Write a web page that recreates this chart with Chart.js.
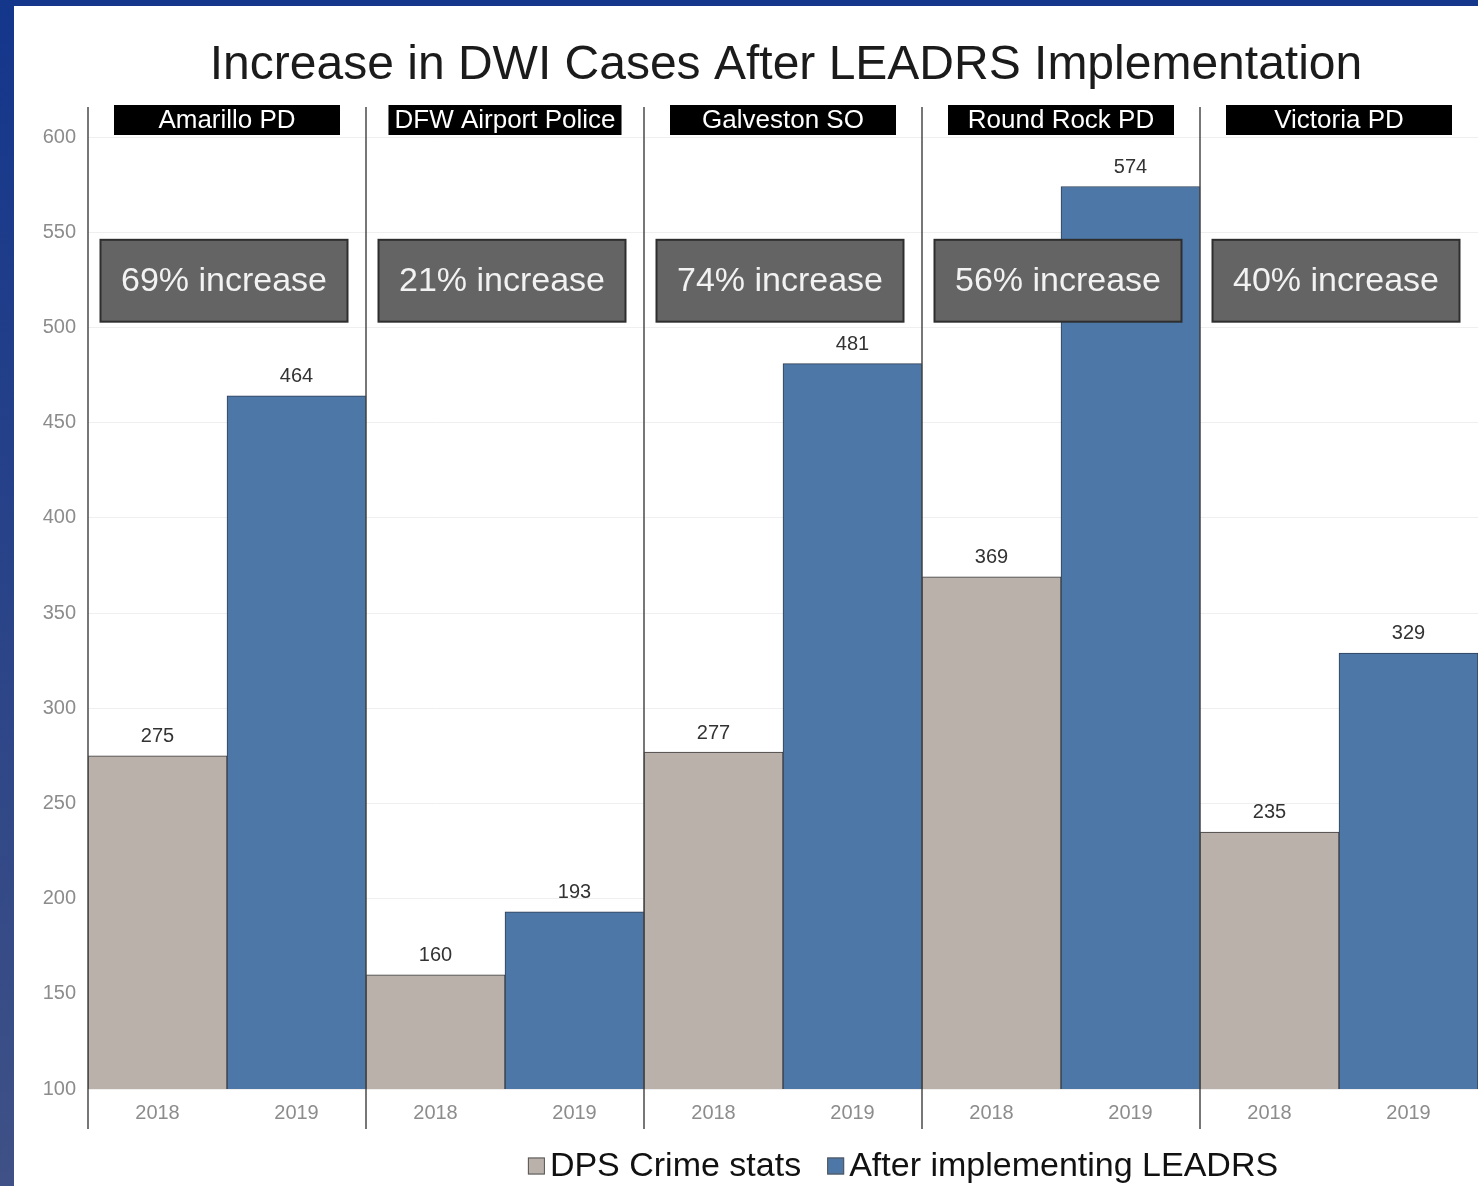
<!DOCTYPE html>
<html>
<head>
<meta charset="utf-8">
<title>Increase in DWI Cases After LEADRS Implementation</title>
<script src="https://cdn.jsdelivr.net/npm/chart.js@4"></script>
<style>
    html, body { margin: 0; padding: 0; background: #fff; }
    #wrap { position: relative; width: 1478px; height: 1186px; overflow: hidden; }
</style>
</head>
<body>
<div id="wrap"><canvas id="graficaDwi"></canvas></div>
<script>
const tituloGrafica = 'Increase in DWI Cases After LEADRS Implementation';
const agencias = ['Amarillo PD', 'DFW Airport Police', 'Galveston SO', 'Round Rock PD', 'Victoria PD'];
const anios = ['2018', '2019'];
const dpsCrimeStats = [275, 160, 277, 369, 235];
const despuesLeadrs = [464, 193, 481, 574, 329];
const nombresSeries = ['DPS Crime stats', 'After implementing LEADRS'];

const FUENTE = '"Liberation Sans", Arial, sans-serif';
const GRIS = '#bab1ab';
const AZUL = '#4c77a6';

// cada agencia ocupa dos categorias: 2018 y 2019
const etiquetas = agencias.flatMap(() => anios);
const serie2018 = agencias.flatMap((a, i) => [dpsCrimeStats[i], null]);
const serie2019 = agencias.flatMap((a, i) => [null, despuesLeadrs[i]]);

const extras = {
    id: 'extras',
    afterDatasetsDraw(chart) {
        const { ctx, chartArea, scales } = chart;
        const x = scales.x, y = scales.y;
        const paso = x.getPixelForValue(1) - x.getPixelForValue(0);

        ctx.save();
        agencias.forEach((nombre, i) => {
            const izq = x.getPixelForValue(2 * i) - paso / 2;
            const centro = izq + paso;

            // caja de porcentaje
            const pct = Math.round((despuesLeadrs[i] / dpsCrimeStats[i] - 1) * 100);
            const yTop = y.getPixelForValue(546), yBot = y.getPixelForValue(503);
            const ancho = 247;
            ctx.fillStyle = '#646464';
            ctx.fillRect(centro - 3 - ancho / 2, yTop, ancho, yBot - yTop);
            ctx.strokeStyle = '#2e2e2e';
            ctx.lineWidth = 2;
            ctx.strokeRect(centro - 3 - ancho / 2, yTop, ancho, yBot - yTop);
            ctx.fillStyle = '#f2f2f2';
            ctx.font = '34px ' + FUENTE;
            ctx.textAlign = 'center';
            ctx.textBaseline = 'middle';
            ctx.fillText(pct + '% increase', centro - 3, (yTop + yBot) / 2 + 1);

            // encabezado negro
            ctx.font = '26px ' + FUENTE;
            const w = Math.max(226, ctx.measureText(nombre).width + 12);
            ctx.fillStyle = '#000';
            ctx.fillRect(centro - w / 2, chartArea.top - 32, w, 30);
            ctx.fillStyle = '#fff';
            ctx.fillText(nombre, centro, chartArea.top - 16);

            // divisores
            ctx.strokeStyle = '#4a4a4a';
            ctx.lineWidth = 1.5;
            ctx.beginPath();
            ctx.moveTo(izq, chartArea.top - 30);
            ctx.lineTo(izq, chartArea.bottom + 40);
            ctx.stroke();
        });

        // valores encima de las barras
        ctx.font = '20px ' + FUENTE;
        ctx.fillStyle = '#333';
        ctx.textAlign = 'center';
        ctx.textBaseline = 'middle';
        chart.data.datasets.forEach((ds, d) => {
            chart.getDatasetMeta(d).data.forEach((bar, j) => {
                if (ds.data[j] == null) return;
                ctx.fillText(ds.data[j], bar.x, bar.y - 19);
            });
        });

        // titulo
        ctx.font = '48px ' + FUENTE;
        ctx.fillStyle = '#1b1b1b';
        ctx.fillText(tituloGrafica, (chartArea.left + chartArea.right) / 2 + 3, 66);

        // leyenda
        ctx.font = '34px ' + FUENTE;
        ctx.textAlign = 'left';
        const caja = 17, hueco = 5, sep = 26;
        const anchos = nombresSeries.map(n => ctx.measureText(n).width);
        const total = anchos.reduce((s, a) => s + a + caja + hueco, 0) + sep;
        let lx = (chartArea.left + chartArea.right) / 2 + 120 - total / 2;
        const ly = 1166;
        nombresSeries.forEach((n, k) => {
            ctx.fillStyle = k === 0 ? GRIS : AZUL;
            ctx.fillRect(lx, ly - caja / 2, caja, caja);
            ctx.strokeStyle = '#555';
            ctx.lineWidth = 1;
            ctx.strokeRect(lx + 0.5, ly - caja / 2 + 0.5, caja - 1, caja - 1);
            ctx.fillStyle = '#111';
            ctx.fillText(n, lx + caja + hueco, ly + 1);
            lx += caja + hueco + anchos[k] + sep;
        });

        // marco azul de la diapositiva
        const grad = ctx.createLinearGradient(0, 0, 0, chart.height);
        grad.addColorStop(0, '#14368b');
        grad.addColorStop(1, '#3f5186');
        ctx.fillStyle = grad;
        ctx.fillRect(0, 0, 14, chart.height);
        ctx.fillStyle = '#14368b';
        ctx.fillRect(0, 0, chart.width, 6);
        ctx.restore();
    }
};

new Chart(document.getElementById('graficaDwi').getContext('2d'), {
    type: 'bar',
    data: {
        labels: etiquetas,
        datasets: [
            { label: nombresSeries[0], data: serie2018, backgroundColor: GRIS, borderColor: '#3a3a3a', borderWidth: 1 },
            { label: nombresSeries[1], data: serie2019, backgroundColor: AZUL, borderColor: '#2f3f55', borderWidth: 1 }
        ]
    },
    options: {
        responsive: true,
        maintainAspectRatio: false,
        animation: false,
        layout: { padding: { top: 137, bottom: 57, left: 0, right: 0 } },
        datasets: { bar: { categoryPercentage: 1, barPercentage: 1 } },
        plugins: { legend: { display: false }, title: { display: false }, tooltip: { enabled: false } },
        scales: {
            x: {
                stacked: true,
                grid: { display: false },
                border: { display: false },
                ticks: { color: '#8c8c8c', font: { family: FUENTE, size: 20 }, padding: 4, maxRotation: 0, autoSkip: false }
            },
            y: {
                min: 100,
                max: 600,
                ticks: { stepSize: 50, color: '#8c8c8c', font: { family: FUENTE, size: 20 }, padding: 12 },
                grid: { color: '#efefef', drawTicks: false },
                border: { display: false },
                afterFit: s => { s.width = 88; }
            }
        }
    },
    plugins: [extras]
});
</script>
</body>
</html>
